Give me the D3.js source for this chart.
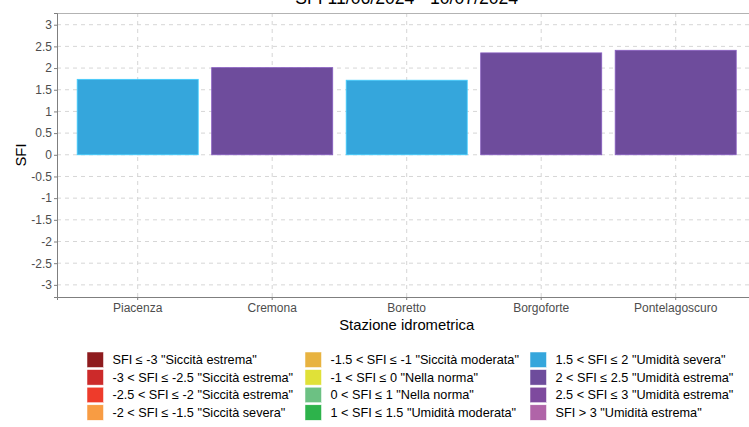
<!DOCTYPE html>
<html><head><meta charset="utf-8">
<script src="https://cdn.jsdelivr.net/npm/d3@7"></script>
<style>body{margin:0;background:#fff;} svg{display:block;font-family:"Liberation Sans",Arial,sans-serif;}</style>
</head><body>
<svg id="c" width="749" height="427"></svg>
<script>
const title = "SFI 11/06/2024 - 10/07/2024";
const stations = ["Piacenza","Cremona","Boretto","Borgoforte","Pontelagoscuro"];
const sfiValues = [1.74, 2.01, 1.72, 2.35, 2.41];
const yTicks = [-3,-2.5,-2,-1.5,-1,-0.5,0,0.5,1,1.5,2,2.5,3];
const classLabels = [
 'SFI ≤ -3 "Siccità estrema"','-3 < SFI ≤ -2.5 "Siccità estrema"','-2.5 < SFI ≤ -2 "Siccità estrema"','-2 < SFI ≤ -1.5 "Siccità severa"',
 '-1.5 < SFI ≤ -1 "Siccità moderata"','-1 < SFI ≤ 0 "Nella norma"','0 < SFI ≤ 1 "Nella norma"','1 < SFI ≤ 1.5 "Umidità moderata"',
 '1.5 < SFI ≤ 2 "Umidità severa"','2 < SFI ≤ 2.5 "Umidità estrema"','2.5 < SFI ≤ 3 "Umidità estrema"','SFI > 3 "Umidità estrema"'];
const classUpper = [-3,-2.5,-2,-1.5,-1,0,1,1.5,2,2.5,3,Infinity];
const classColors = ["#8E1B1E","#CC2A2A","#EE3B2B","#F89C43","#E8B340","#E0E138","#6CC183","#2DB34B","#35A6DC","#6E4C9C","#7E4A9E","#B064A8"];

const svg = d3.select("#c");
const L = 57, R = 756.4, T = 13, B = 297;
const x = d3.scaleBand().domain(stations).range([L, R]).paddingInner(0.1).paddingOuter(0.15);
const xc = d => x(d) + x.bandwidth()/2;
const y = d3.scaleLinear().domain([-3.28, 3.27]).range([B, T]);
const color = v => classColors[classUpper.findIndex(u => v <= u)];

// grid
const g = svg.append("g");
g.selectAll("line.h").data(yTicks).join("line")
  .attr("x1", L).attr("x2", R).attr("y1", d=>y(d)).attr("y2", d=>y(d))
  .attr("stroke","#d6d6d6").attr("stroke-width",1).attr("stroke-dasharray","4,4");
g.selectAll("line.v").data(stations).join("line")
  .attr("x1", d=>xc(d)).attr("x2", d=>xc(d)).attr("y1", T).attr("y2", B)
  .attr("stroke","#d6d6d6").attr("stroke-width",1).attr("stroke-dasharray","4,4");

// bars
svg.append("g").selectAll("rect").data(stations).join("rect")
  .attr("x", d=>x(d)).attr("width", x.bandwidth())
  .attr("y", (d,i)=>y(Math.max(0,sfiValues[i])))
  .attr("height", (d,i)=>Math.abs(y(sfiValues[i])-y(0)))
  .attr("fill", (d,i)=>color(sfiValues[i]))
  .attr("stroke", (d,i)=>d3.color(color(sfiValues[i])).brighter(0.6)).attr("stroke-width",0.8);

// panel lines
svg.append("line").attr("x1",L).attr("x2",R).attr("y1",T+0.5).attr("y2",T+0.5).attr("stroke","#b3b3b3");

// axes
const ya = svg.append("g").attr("transform",`translate(${L},0)`)
  .call(d3.axisLeft(y).tickValues(yTicks).tickSize(3).tickPadding(2).tickFormat(d=>String(d)));
const xa = svg.append("g").attr("transform",`translate(0,${B})`)
  .call(d3.axisBottom(x).tickSize(3).tickPadding(3));
[ya,xa].forEach(a=>{
  a.select(".domain").attr("stroke","#7f7f7f");
  a.selectAll(".tick line").attr("stroke","#7f7f7f");
  a.selectAll(".tick text").attr("fill","#4d4d4d").style("font-size","12px").style("font-family","Liberation Sans, Arial, sans-serif");
});

// titles
svg.append("text").attr("x",(L+R)/2).attr("y",4).attr("text-anchor","middle")
  .style("font-size","17.6px").attr("fill","#000").text(title);
svg.append("text").attr("x",(L+R)/2).attr("y",330).attr("text-anchor","middle")
  .style("font-size","14.8px").text("Stazione idrometrica");
svg.append("text").attr("transform",`translate(26,${(T+B)/2}) rotate(-90)`).attr("text-anchor","middle")
  .style("font-size","14.8px").text("SFI");

// legend
const colX = [87, 305, 530];
const rowY = [352, 369.6, 387.2, 404.8];
const lg = svg.append("g");
classLabels.forEach((lab,i)=>{
  const c = Math.floor(i/4), r = i%4;
  lg.append("rect").attr("x",colX[c]).attr("y",rowY[r]).attr("width",16.5).attr("height",15.5)
    .attr("fill",classColors[i]).attr("stroke","#fff").attr("stroke-width",0.5);
  lg.append("text").attr("x",colX[c]+25.5).attr("y",rowY[r]+12.2).style("font-size","12.7px").text(lab);
});
</script>
</body></html>
